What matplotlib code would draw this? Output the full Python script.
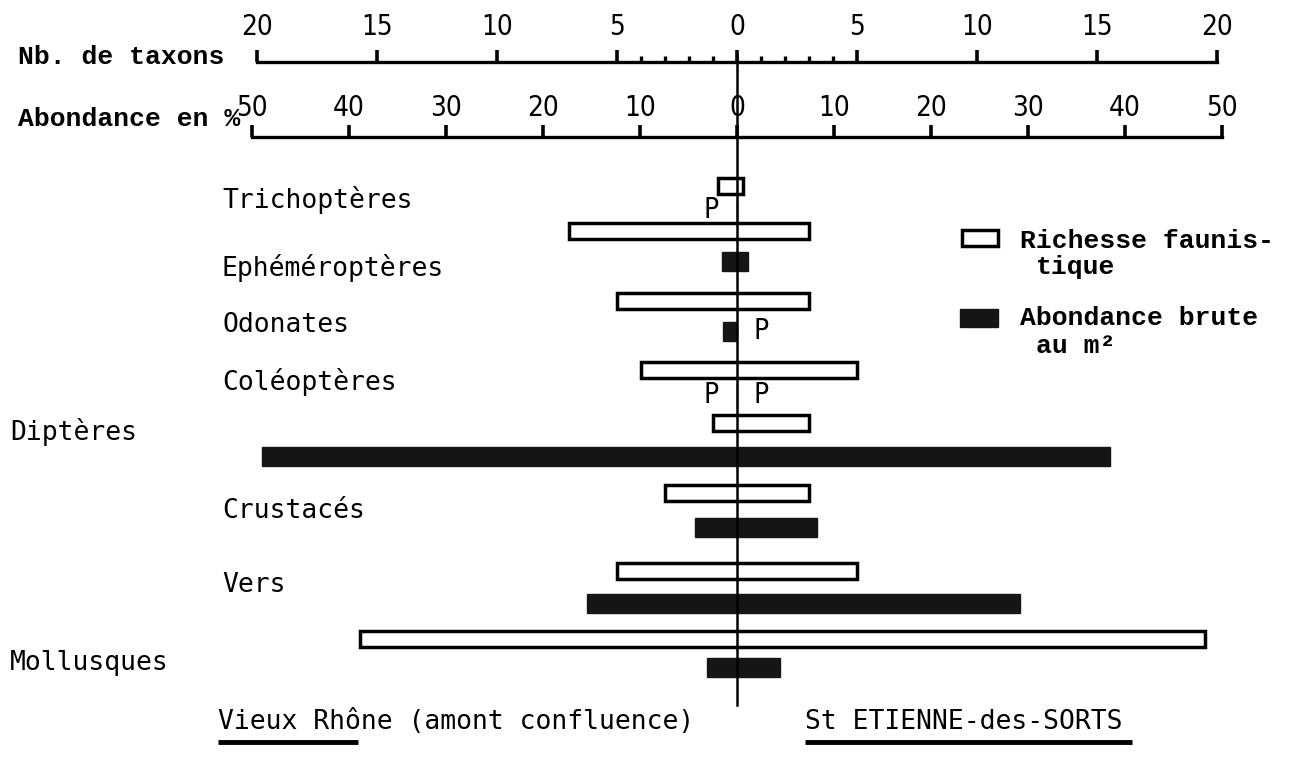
import matplotlib
matplotlib.use('Agg')
import matplotlib.pyplot as plt
from matplotlib.patches import Rectangle

plt.rcParams['font.family'] = 'DejaVu Sans'

# groups, top to bottom
groups = ['Trichoptères', 'Ephéméroptères', 'Odonates', 'Coléoptères',
          'Diptères', 'Crustacés', 'Vers', 'Mollusques']

# richesse faunistique (nb. de taxons): Vieux Rhône (left) / St Etienne-des-Sorts (right)
taxa_vr = [0.8, 7, 5, 4, 1, 3, 5, 15.7]
taxa_se = [0.25, 3, 3, 5, 3, 3, 5, 19.5]

# abondance (%); 0 + presence flag = "P" (présence only)
abund_vr = [0, 1.5, 1.4, 0, 49, 4.3, 15.5, 3.1]
abund_se = [0, 1.1, 0, 0, 38.5, 8.2, 29.2, 4.4]
pres_vr = [True, False, False, True, False, False, False, False]
pres_se = [False, False, True, True, False, False, False, False]

taxon_major = [-20, -15, -10, -5, 0, 5, 10, 15, 20]
taxon_minor = [-4, -3, -2, -1, 1, 2, 3, 4]
abund_major = [-50, -40, -30, -20, -10, 0, 10, 20, 30, 40, 50]

# layout (pixels of the 1293x767 picture)
W, H = 1293, 767
X0 = 737                 # centre line
PX_TAXON = 24.0          # pixels per taxon
PCT = 9.7 / PX_TAXON     # 1 % of abundance in taxon units
ROW_WHITE = [186, 231, 301, 370, 423, 493, 571, 639]
ROW_BLACK = [210, 261, 331, 395, 456, 527, 603, 667]
LABEL_X = [222, 222, 222, 222, 10, 222, 222, 10]
LABEL_Y = [200, 268, 325, 382, 432, 511, 585, 663]

MONO = 'DejaVu Sans Mono'
TYPE = 'Liberation Mono'
COND = ['Liberation Sans Narrow', 'DejaVu Sans']


def xpx(p):
    return (p - X0) / PX_TAXON


fig = plt.figure(figsize=(W / 100, H / 100), dpi=100)
ax = fig.add_axes([0, 0, 1, 1])
xlim = (xpx(0), xpx(W))
ax.set_xlim(*xlim)
ax.set_ylim(H, 0)
ax.axis('off')

# bars
ax.barh(ROW_WHITE, [l + r for l, r in zip(taxa_vr, taxa_se)], left=[-v for v in taxa_vr],
        height=16, facecolor='white', edgecolor='black', linewidth=2.5, zorder=2)
abd_l = [v * PCT for v in abund_vr]
abd_r = [v * PCT for v in abund_se]
ax.barh(ROW_BLACK, [l + r for l, r in zip(abd_l, abd_r)], left=[-v for v in abd_l],
        height=19, facecolor='#151515', edgecolor='#151515', linewidth=1, zorder=2)

# "P" = presence
for y, pl, pr in zip(ROW_BLACK, pres_vr, pres_se):
    if pl:
        ax.text(-1.1, y, 'P', ha='center', va='center', fontsize=20, family=COND, stretch='condensed')
    if pr:
        ax.text(1.0, y, 'P', ha='center', va='center', fontsize=20, family=COND, stretch='condensed')

# centre line
ax.plot([0, 0], [55, 705], color='black', lw=1.8, zorder=3)

# group labels
for name, lx, ly in zip(groups, LABEL_X, LABEL_Y):
    ax.text(xpx(lx), ly, name, ha='left', va='center', fontsize=19, family=MONO)


def scale_axis(y_px, lim, bound, major, minor, pad):
    a = fig.add_axes([0, 1 - y_px / H - 0.0001, 1, 0.0001])
    a.set_xlim(*lim)
    a.patch.set_visible(False)
    for s in ['left', 'right', 'bottom']:
        a.spines[s].set_visible(False)
    a.spines['top'].set_bounds(-bound, bound)
    a.spines['top'].set_linewidth(2.4)
    a.yaxis.set_visible(False)
    a.xaxis.tick_top()
    a.set_xticks(major)
    a.set_xticklabels([f'{abs(v):g}' for v in major])
    if minor:
        a.set_xticks(minor, minor=True)
    a.tick_params(axis='x', which='major', direction='out', length=9, width=2.6, pad=pad, labelsize=20)
    a.tick_params(axis='x', which='minor', direction='out', length=4, width=2.4)
    for lab in a.get_xticklabels():
        lab.set_family(COND)
        lab.set_stretch('condensed')
    return a


scale_axis(62, xlim, 20, taxon_major, taxon_minor, 6)
scale_axis(137, (xlim[0] / PCT, xlim[1] / PCT), 50, abund_major, None, 2)

ax.text(xpx(18), 57, 'Nb. de taxons', ha='left', va='center', fontsize=19,
        family=TYPE, weight='bold')
ax.text(xpx(18), 119, 'Abondance en %', ha='left', va='center', fontsize=19,
        family=TYPE, weight='bold')

# legend
ax.add_patch(Rectangle((xpx(962), 230), 36 / PX_TAXON, 16, facecolor='white',
                       edgecolor='black', lw=2.5, zorder=2))
ax.add_patch(Rectangle((xpx(960), 309), 38 / PX_TAXON, 18, facecolor='#151515',
                       edgecolor='#151515', lw=1, zorder=2))
for tx, ty, s in [(1020, 241, 'Richesse faunis-'), (1036, 267, 'tique'),
                  (1020, 318, 'Abondance brute'), (1036, 346, 'au m²')]:
    ax.text(xpx(tx), ty, s, ha='left', va='center', fontsize=19, family=TYPE, weight='bold')

# stations
ax.text(xpx(218), 722, 'Vieux Rhône (amont confluence)', ha='left', va='center', fontsize=19, family=MONO)
ax.text(xpx(805), 722, 'St ETIENNE-des-SORTS', ha='left', va='center', fontsize=19, family=MONO)
ax.plot([xpx(218), xpx(358)], [742, 742], color='black', lw=3.5, solid_capstyle='butt')
ax.plot([xpx(805), xpx(1132)], [742, 742], color='black', lw=3.5, solid_capstyle='butt')

fig.savefig('out.png', dpi=100, facecolor='white')
